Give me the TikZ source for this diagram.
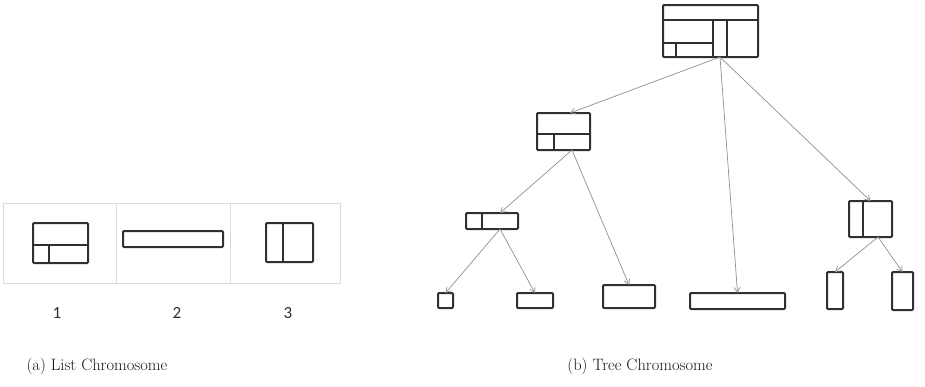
\documentclass[tikz,border=0pt]{standalone}
\usepackage{fontspec}
\newfontfamily\carl{Carlito}
\usetikzlibrary{arrows.meta}
\definecolor{boxc}{HTML}{303030}
\definecolor{arrc}{HTML}{909090}
\definecolor{framec}{HTML}{DCDCDC}
\tikzset{
  box/.style={draw=boxc, line width=2pt, rounded corners=1pt, inner sep=0pt, outer sep=0pt},
  divider/.style={draw=boxc, line width=2pt},
  panel/.style={draw=framec, line width=1pt, inner sep=0pt, outer sep=0pt},
  conn/.style={draw=arrc, line width=0.7pt, -{Straight Barb[length=5pt,width=6pt]}},
  numlbl/.style={font=\carl\fontsize{17}{20}\selectfont, text=boxc, inner sep=0pt},
  caption/.style={font=\fontsize{16.5}{20}\selectfont, text=black!90, inner sep=0pt}
}
\begin{document}
\begin{tikzpicture}[x=1pt,y=-1pt]
\useasboundingbox[fill=white] (0,0) rectangle (925,386);

% ---------- (a) list chromosome ----------
\node[panel, minimum width=337, minimum height=80] (frame) at (171.5,243) {};
\draw[framec, line width=1pt] (116,203) -- (116,283) (230,203) -- (230,283);

\node[box, minimum width=55, minimum height=40] (l1) at (60.5,243) {};
\draw[divider] (33,245) -- (88,245) (49,245) -- (49,263);
\node[box, minimum width=100, minimum height=16] (l2) at (173,239) {};
\node[box, minimum width=47, minimum height=39] (l3) at (289.5,242.5) {};
\draw[divider] (283,223) -- (283,262);

\node[numlbl] (n1) at (57,313) {1};
\node[numlbl] (n2) at (177,313) {2};
\node[numlbl] (n3) at (288,313) {3};

\node[caption] (capa) at (97,366) {(a) List Chromosome};

% ---------- (b) tree chromosome ----------
\node[box, minimum width=95, minimum height=52] (root) at (710.5,31) {};
\draw[divider] (663,20) -- (758,20) (713,20) -- (713,57) (727,20) -- (727,57)
  (663,43) -- (713,43) (676,43) -- (676,57);

\node[box, minimum width=53, minimum height=37] (A) at (563.5,131.5) {};
\draw[divider] (537,134) -- (590,134) (554,134) -- (554,150);

\node[box, minimum width=52, minimum height=16] (B) at (492,221) {};
\draw[divider] (482,213) -- (482,229);

\node[box, minimum width=43, minimum height=36] (R) at (870.5,219) {};
\draw[divider] (863,201) -- (863,237);

\node[box, minimum width=15, minimum height=15] (f1) at (445.5,300.5) {};
\node[box, minimum width=36, minimum height=15] (f2) at (535,300.5) {};
\node[box, minimum width=52, minimum height=23] (f3) at (629,296.5) {};
\node[box, minimum width=95, minimum height=16] (f4) at (737.5,301) {};
\node[box, minimum width=16, minimum height=37] (f5) at (835,290.5) {};
\node[box, minimum width=21, minimum height=38] (f6) at (902.5,291) {};

\draw[conn] ([xshift=9.5pt]root.south) -- ([xshift=6.5pt]A.north);
\draw[conn] ([xshift=9.5pt]root.south) -- (f4.north);
\draw[conn] ([xshift=9.5pt]root.south) -- (R.north);
\draw[conn] ([xshift=8.5pt]A.south) -- ([xshift=8pt]B.north);
\draw[conn] ([xshift=8.5pt]A.south) -- (f3.north);
\draw[conn] ([xshift=8pt]B.south) -- (f1.north);
\draw[conn] ([xshift=8pt]B.south) -- (f2.north);
\draw[conn] ([xshift=7.5pt]R.south) -- (f5.north);
\draw[conn] ([xshift=7.5pt]R.south) -- (f6.north);

\node[caption] (capb) at (640,366) {(b) Tree Chromosome};
\end{tikzpicture}
\end{document}
